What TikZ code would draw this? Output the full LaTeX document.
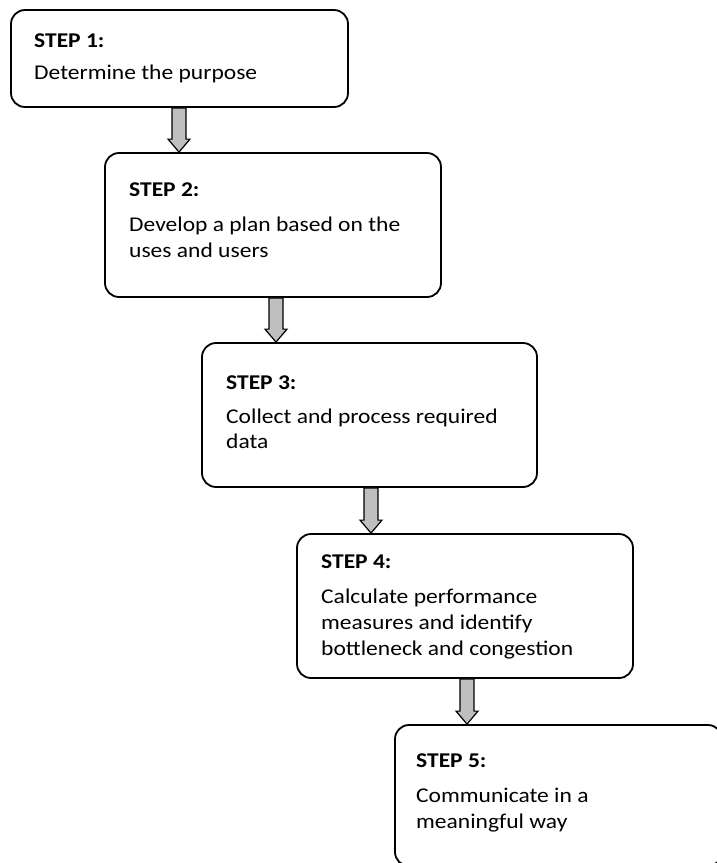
\documentclass[tikz,border=0pt]{standalone}
\usepackage{fontspec}
\setmainfont{Carlito}[FakeStretch=1.12]
\usetikzlibrary{calc}
\tikzset{
  stepbox/.style={draw=black, line width=1.8pt, rounded corners=14pt, fill=white, inner sep=0pt},
  hd/.style={anchor=base west, inner sep=0pt, font=\fontsize{21}{26}\selectfont\bfseries},
  bd/.style={anchor=base west, inner sep=0pt, font=\fontsize{21}{26}\selectfont},
  blockarr/.style={draw=black, line width=1.2pt, fill=black!25, line join=miter}
}
\newcommand\blockarrow[3]{%
  \draw[blockarr] let \p1=(#2.south), \p2=(#3.north) in
    (#1-7,\y1) -- (#1+7,\y1) -- ($(#1+7,0)+(0,\y2+13pt)$) -- ($(#1+11,0)+(0,\y2+13pt)$)
    -- ($(#1,0)+(0,\y2)$) -- ($(#1-11,0)+(0,\y2+13pt)$) -- ($(#1-7,0)+(0,\y2+13pt)$) -- cycle;
}
\begin{document}
\begin{tikzpicture}[x=1pt,y=-1pt]
\useasboundingbox (0,0) rectangle (717,863);
\clip (0,0) rectangle (717,863);
\fill[white] (0,0) rectangle (717,863);
% boxes
\node[stepbox, minimum width=337pt, minimum height=97pt]  (b1) at (179.5,58.5) {};
\node[stepbox, minimum width=336pt, minimum height=144pt] (b2) at (273,225) {};
\node[stepbox, minimum width=335pt, minimum height=144pt] (b3) at (369.5,415) {};
\node[stepbox, minimum width=336pt, minimum height=144pt] (b4) at (465,606) {};
\node[stepbox, minimum width=327pt, minimum height=141pt] (b5) at (558.5,795.5) {};
% arrows
\blockarrow{179}{b1}{b2}
\blockarrow{276}{b2}{b3}
\blockarrow{371}{b3}{b4}
\blockarrow{467}{b4}{b5}
% texts
\node[hd] (h1) at (34,47) {STEP 1:};
\node[bd] (t1) at (34,79) {Determine the purpose};
\node[hd] (h2) at (129,196) {STEP 2:};
\node[bd] (t2a) at (129,231) {Develop a plan based on the};
\node[bd] (t2b) at (129,257) {uses and users};
\node[hd] (h3) at (226,389) {STEP 3:};
\node[bd] (t3a) at (226,423) {Collect and process required};
\node[bd] (t3b) at (226,448) {data};
\node[hd] (h4) at (321,568) {STEP 4:};
\node[bd] (t4a) at (321,603) {Calculate performance};
\node[bd] (t4b) at (321,629) {measures and identify};
\node[bd] (t4c) at (321,655) {bottleneck and congestion};
\node[hd] (h5) at (416,767) {STEP 5:};
\node[bd] (t5a) at (416,802) {Communicate in a};
\node[bd] (t5b) at (416,828) {meaningful way};
\end{tikzpicture}
\end{document}
